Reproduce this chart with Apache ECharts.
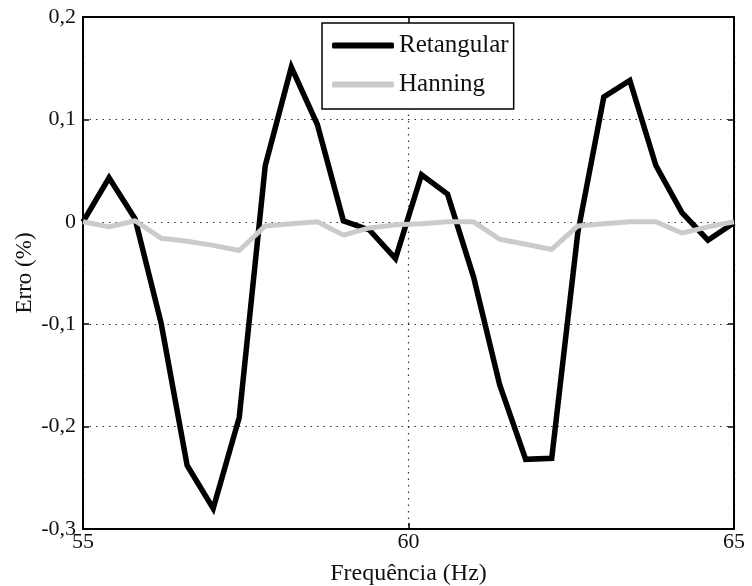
<!DOCTYPE html>
<html>
<head>
<meta charset="utf-8">
<script src="https://cdn.jsdelivr.net/npm/echarts@6/dist/echarts.min.js"></script>
<style>
  html, body { margin: 0; padding: 0; background: #fff; }
  #chart { width: 752px; height: 586px; }
</style>
</head>
<body>
<div id="chart"></div>
<script>
// frequencias (Hz) onde o erro foi avaliado
const freqs = [55.0, 55.4, 55.8, 56.2, 56.6, 57.0, 57.4, 57.8, 58.2, 58.6, 59.0, 59.4, 59.8,
  60.2, 60.6, 61.0, 61.4, 61.8, 62.2, 62.6, 63.0, 63.4, 63.8, 64.2, 64.6, 65.0];
const retangular = [0, 0.043, 0.003, -0.099, -0.238, -0.280, -0.191, 0.055, 0.151, 0.095, 0.001, -0.008, -0.036,
  0.046, 0.027, -0.054, -0.159, -0.232, -0.231, -0.011, 0.122, 0.138, 0.055, 0.009, -0.018, -0.001];
const hanning = [0, -0.005, 0.001, -0.016, -0.019, -0.023, -0.028, -0.004, -0.002, 0, -0.013, -0.006, -0.003,
  -0.002, 0, 0, -0.017, -0.022, -0.027, -0.004, -0.002, 0, 0, -0.011, -0.005, 0];
const xTicks = [55, 60, 65];
const yTicks = [-0.3, -0.2, -0.1, 0, 0.1, 0.2];

const font = 'Liberation Serif';
const pairs = (ys) => freqs.map((f, i) => [f, ys[i]]);
const fmtY = (v) => Math.abs(v) < 1e-9 ? '0' : v.toFixed(1).replace('.', ',');

const myChart = echarts.init(document.getElementById('chart'));

const frame = { show: true, onZero: false, lineStyle: { color: '#000', width: 2 } };
const tick = { show: true, inside: true, length: 6, lineStyle: { color: '#000', width: 1.5 } };
const dotted = { show: true, lineStyle: { type: [1.5, 5], color: '#333', width: 1.2 } };

const option = {
  animation: false,
  grid: { left: 83, right: 18, top: 17, bottom: 57, outerBoundsMode: 'none' },
  legend: {
    left: 322,
    top: 23,
    orient: 'vertical',
    backgroundColor: '#fff',
    borderColor: '#000',
    borderWidth: 1.5,
    padding: [10, 5, 12, 10],
    itemGap: 14,
    itemWidth: 62,
    itemHeight: 6,
    icon: 'roundRect',
    textStyle: { fontFamily: font, fontSize: 25, color: '#111' },
    data: ['Retangular', 'Hanning']
  },
  xAxis: [
    {
      type: 'value',
      min: xTicks[0],
      max: xTicks[xTicks.length - 1],
      interval: 5,
      name: 'Frequência (Hz)',
      nameLocation: 'middle',
      nameGap: 33,
      nameTextStyle: { fontFamily: font, fontSize: 24, color: '#111' },
      axisLine: frame,
      axisTick: tick,
      axisLabel: { fontFamily: font, fontSize: 22, color: '#111', margin: 2 },
      splitLine: dotted
    },
    {
      type: 'value',
      position: 'top',
      min: 55,
      max: 65,
      interval: 5,
      axisLine: frame,
      axisTick: tick,
      axisLabel: { show: false },
      splitLine: { show: false }
    }
  ],
  yAxis: [
    {
      type: 'value',
      min: yTicks[0],
      max: yTicks[yTicks.length - 1],
      interval: 0.1,
      name: 'Erro (%)',
      nameLocation: 'middle',
      nameGap: 47,
      nameMoveOverlap: false,
      nameTextStyle: { fontFamily: font, fontSize: 23, color: '#111' },
      axisLine: frame,
      axisTick: tick,
      axisLabel: { fontFamily: font, fontSize: 22, color: '#111', margin: 7, formatter: fmtY },
      splitLine: dotted
    },
    {
      type: 'value',
      position: 'right',
      min: -0.3,
      max: 0.2,
      interval: 0.1,
      axisLine: frame,
      axisTick: tick,
      axisLabel: { show: false },
      splitLine: { show: false }
    }
  ],
  series: [
    {
      name: 'Retangular',
      type: 'line',
      data: pairs(retangular),
      symbol: 'none',
      itemStyle: { color: '#000' },
      lineStyle: { color: '#000', width: 5.5, join: 'miter' }
    },
    {
      name: 'Hanning',
      type: 'line',
      data: pairs(hanning),
      symbol: 'none',
      itemStyle: { color: '#cbcbcb' },
      lineStyle: { color: '#cbcbcb', width: 5 }
    }
  ]
};

myChart.setOption(option);
</script>
</body>
</html>
